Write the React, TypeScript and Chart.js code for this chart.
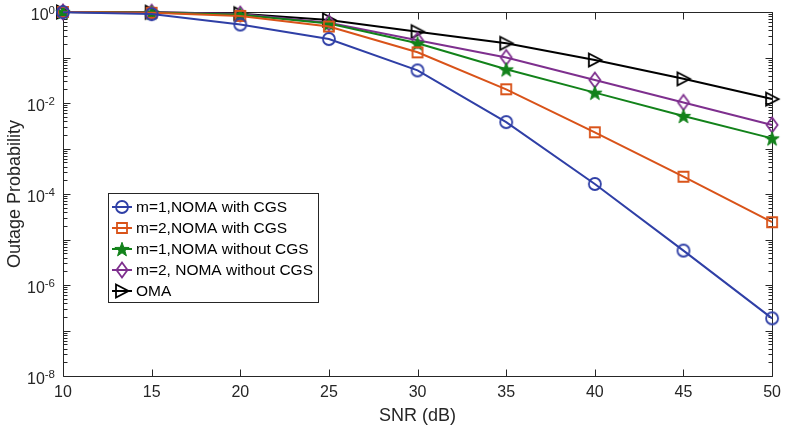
import React, { useEffect, useRef } from 'react';
import { Chart, registerables } from 'chart.js';

Chart.register(...registerables);

// ---- data ----
const snrDb = [10, 15, 20, 25, 30, 35, 40, 45, 50];
const m1NomaCGS = [0.99, 0.9, 0.53, 0.255, 0.052, 0.0038, 1.66e-4, 5.7e-6, 1.85e-7];
const m2NomaCGS = [1, 0.96, 0.82, 0.48, 0.13, 0.02, 2.27e-3, 2.4e-4, 2.4e-5];
const m1NomaNoCGS = [1, 0.98, 0.87, 0.56, 0.205, 0.055, 0.0169, 5.2e-3, 1.67e-3];
const m2NomaNoCGS = [1, 0.99, 0.9, 0.58, 0.24, 0.1, 0.032, 0.0103, 3.3e-3];
const omaValues = [1, 0.99, 0.92, 0.67, 0.37, 0.205, 0.088, 0.034, 0.0122];

const seriesLabels = [
  'm=1,NOMA with CGS',
  'm=2,NOMA with CGS',
  'm=1,NOMA without CGS',
  'm=2, NOMA without CGS',
  'OMA',
];
const seriesColors = ['#2F3FA6', '#D95319', '#12821A', '#7E2F8E', '#000000'];
const seriesMarkers = ['circle', 'square', 'star', 'diamond', 'triangleRight'];
const seriesValues = [m1NomaCGS, m2NomaCGS, m1NomaNoCGS, m2NomaNoCGS, omaValues];

const xTickValues = [10, 15, 20, 25, 30, 35, 40, 45, 50];
const yLabelExponents = [0, -2, -4, -6, -8];
const xTitle = 'SNR (dB)';
const yTitle = 'Outage Probability';

const FONT = '"Liberation Sans", Arial, Helvetica, sans-serif';
const AXIS = '#262626';

function drawMarker(ctx: CanvasRenderingContext2D, type: string, x: number, y: number, color: string) {
  ctx.save();
  ctx.strokeStyle = color;
  ctx.fillStyle = color;
  ctx.lineWidth = 1.8;
  ctx.beginPath();
  if (type === 'circle') {
    ctx.arc(x, y, 6, 0, Math.PI * 2);
    ctx.stroke();
  } else if (type === 'square') {
    ctx.rect(x - 5, y - 5, 10, 10);
    ctx.stroke();
  } else if (type === 'star') {
    const R = 7.5;
    const r = 3.0;
    for (let i = 0; i < 10; i++) {
      const a = -Math.PI / 2 + (i * Math.PI) / 5;
      const rad = i % 2 === 0 ? R : r;
      const px = x + Math.cos(a) * rad;
      const py = y + Math.sin(a) * rad + 0.8;
      if (i === 0) ctx.moveTo(px, py);
      else ctx.lineTo(px, py);
    }
    ctx.closePath();
    ctx.fill();
    ctx.lineWidth = 1;
    ctx.stroke();
  } else if (type === 'diamond') {
    ctx.moveTo(x, y - 7.5);
    ctx.lineTo(x + 5.5, y);
    ctx.lineTo(x, y + 7.5);
    ctx.lineTo(x - 5.5, y);
    ctx.closePath();
    ctx.stroke();
  } else if (type === 'triangleRight') {
    ctx.moveTo(x - 6, y - 6.5);
    ctx.lineTo(x + 6.5, y);
    ctx.lineTo(x - 6, y + 6.5);
    ctx.closePath();
    ctx.stroke();
  }
  ctx.restore();
}

function markerImage(type: string, color: string) {
  const c = document.createElement('canvas');
  c.width = 20;
  c.height = 20;
  const ctx = c.getContext('2d') as CanvasRenderingContext2D;
  drawMarker(ctx, type, 10, 10, color);
  return c;
}

const matlabAxes = {
  id: 'matlabAxes',
  beforeDatasetsDraw(chart: any) {
    const ctx = chart.ctx as CanvasRenderingContext2D;
    const { left, right, top, bottom } = chart.chartArea;
    const xs = chart.scales.x;
    const ys = chart.scales.y;
    ctx.save();
    ctx.strokeStyle = AXIS;
    ctx.lineWidth = 1;
    const L = Math.round(left) + 0.5;
    const R = Math.round(right) + 0.5;
    const T = Math.round(top) + 0.5;
    const B = Math.round(bottom) + 0.5;
    ctx.beginPath();
    ctx.rect(L, T, R - L, B - T);
    ctx.stroke();
    ctx.beginPath();
    xTickValues.forEach((v) => {
      const px = Math.round(xs.getPixelForValue(v)) + 0.5;
      ctx.moveTo(px, B);
      ctx.lineTo(px, B - 7);
      ctx.moveTo(px, T);
      ctx.lineTo(px, T + 7);
    });
    for (let k = -8; k <= 0; k++) {
      const py = Math.round(ys.getPixelForValue(Math.pow(10, k))) + 0.5;
      ctx.moveTo(L, py);
      ctx.lineTo(L + 7, py);
      ctx.moveTo(R, py);
      ctx.lineTo(R - 7, py);
      if (k < 0) {
        for (let m = 2; m <= 9; m++) {
          const pm = Math.round(ys.getPixelForValue(m * Math.pow(10, k))) + 0.5;
          ctx.moveTo(L, pm);
          ctx.lineTo(L + 4, pm);
          ctx.moveTo(R, pm);
          ctx.lineTo(R - 4, pm);
        }
      }
    }
    ctx.stroke();
    ctx.restore();
  },
  afterDatasetsDraw(chart: any) {
    const ctx = chart.ctx as CanvasRenderingContext2D;
    const ys = chart.scales.y;
    const { left } = chart.chartArea;
    ctx.save();
    // y tick labels with superscript exponents
    ctx.fillStyle = AXIS;
    ctx.textBaseline = 'middle';
    yLabelExponents.forEach((e) => {
      const py = ys.getPixelForValue(Math.pow(10, e));
      const expText = String(e);
      ctx.font = `11.5px ${FONT}`;
      const ew = ctx.measureText(expText).width;
      const expRight = left - 8;
      ctx.textAlign = 'right';
      ctx.fillText(expText, expRight, py - 1);
      ctx.font = `16px ${FONT}`;
      ctx.fillText('10', expRight - ew, py + 4);
    });
    // legend
    const bx = 108.5, by = 193.5, bw = 210, bh = 109;
    ctx.fillStyle = '#ffffff';
    ctx.fillRect(bx, by, bw, bh);
    ctx.strokeStyle = AXIS;
    ctx.lineWidth = 1;
    ctx.strokeRect(bx, by, bw, bh);
    ctx.font = `15.5px ${FONT}`;
    ctx.textAlign = 'left';
    ctx.textBaseline = 'middle';
    seriesLabels.forEach((lab, i) => {
      const ry = 207 + i * 21;
      ctx.strokeStyle = seriesColors[i];
      ctx.lineWidth = 2;
      ctx.beginPath();
      ctx.moveTo(112, ry);
      ctx.lineTo(132, ry);
      ctx.stroke();
      drawMarker(ctx, seriesMarkers[i], 122, ry, seriesColors[i]);
      ctx.fillStyle = '#000000';
      ctx.fillText(lab, 136, ry + 0.5);
    });
    ctx.restore();
  },
};

export default function App() {
  const ref = useRef<HTMLCanvasElement | null>(null);
  useEffect(() => {
    if (!ref.current) return;
    const datasets = seriesLabels.map((label, i) => ({
      label,
      data: snrDb.map((x, j) => ({ x, y: seriesValues[i][j] })),
      borderColor: seriesColors[i],
      backgroundColor: seriesColors[i],
      borderWidth: 2,
      pointStyle: markerImage(seriesMarkers[i], seriesColors[i]) as any,
      pointRadius: 6,
      tension: 0,
      clip: false as any,
    }));
    const chart = new Chart(ref.current, {
      type: 'line',
      data: { datasets },
      plugins: [matlabAxes],
      options: {
        animation: false,
        responsive: false,
        events: [],
        layout: { padding: { top: 12, right: 10, left: 0, bottom: 0 } },
        plugins: { legend: { display: false }, tooltip: { enabled: false } },
        scales: {
          x: {
            type: 'linear',
            min: 10,
            max: 50,
            afterBuildTicks: (s: any) => {
              s.ticks = xTickValues.map((v) => ({ value: v }));
            },
            afterFit: (s: any) => {
              s.height = 51;
            },
            grid: { display: false, drawTicks: false },
            border: { display: false },
            ticks: {
              color: AXIS,
              font: { family: FONT, size: 16 },
              padding: 7,
              maxRotation: 0,
            },
            title: {
              display: true,
              text: xTitle,
              color: AXIS,
              font: { family: FONT, size: 18 },
              padding: { top: 0, bottom: 0 },
            },
          },
          y: {
            type: 'logarithmic',
            min: 1e-8,
            max: 1,
            afterFit: (s: any) => {
              s.width = 63;
            },
            grid: { display: false, drawTicks: false },
            border: { display: false },
            ticks: { display: false },
            title: {
              display: true,
              text: yTitle,
              color: AXIS,
              font: { family: FONT, size: 18 },
              padding: { top: 4, bottom: 0 },
            },
          },
        },
      },
    });
    return () => chart.destroy();
  }, []);
  return (
    <div style={{ position: 'absolute', left: 0, top: 0, width: 788, height: 427, background: '#fff' }}>
      <canvas ref={ref} width={788} height={427} style={{ display: 'block' }} />
    </div>
  );
}
